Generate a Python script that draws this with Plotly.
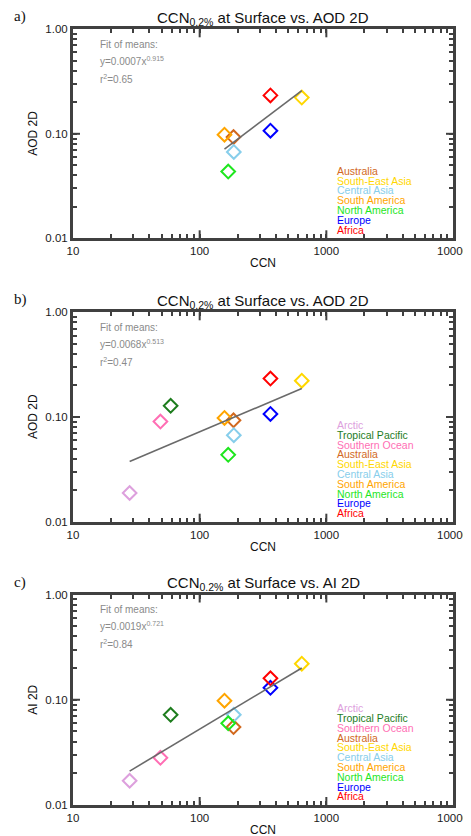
import math
import plotly.graph_objects as go

# ---------------- data ----------------
regions = ["Arctic", "Tropical Pacific", "Southern Ocean", "Australia", "South-East Asia",
           "Central Asia", "South America", "North America", "Europe", "Africa"]
colors = ["#DDA0DD", "#1E7D1E", "#FF6EB4", "#D2691E", "#FFD700",
          "#87CEEB", "#FFA500", "#1EE61E", "#0000FF", "#FF0000"]
ccn = [28, 59, 49, 185, 640, 186, 157, 168, 362, 362]
aod_a = [None, None, None, 0.093, 0.222, 0.067, 0.098, 0.0435, 0.107, 0.233]
aod_b = [0.0188, 0.128, 0.0905, 0.093, 0.222, 0.067, 0.098, 0.0435, 0.107, 0.233]
ai_c = [0.017, 0.072, 0.0281, 0.055, 0.22, 0.072, 0.098, 0.0597, 0.13, 0.16]

fit_a = (0.0007, 0.915, 0.65)
fit_b = (0.0068, 0.513, 0.47)
fit_c = (0.0019, 0.721, 0.84)

panel_labels = ["a)", "b)", "c)"]
titles = ["CCN<sub>0.2%</sub> at Surface vs. AOD 2D",
          "CCN<sub>0.2%</sub> at Surface vs. AOD 2D",
          "CCN<sub>0.2%</sub> at Surface vs. AI 2D"]
ytitles = ["AOD 2D", "AOD 2D", "AI 2D"]
xtitle = "CCN"
xtick_vals = [10, 100, 1000, 10000]
xtick_text = ["10", "100", "1000", "10000"]
ytick_vals = [0.01, 0.1, 1.0]
ytick_text = ["0.01", "0.10", "1.00"]
xminor_vals = [m * 10 ** d for d in range(1, 4) for m in range(2, 10)]
yminor_vals = [m * 10.0 ** d for d in range(-2, 0) for m in range(2, 10)]

# ---------------- layout geometry (page body has an 8px margin) ----------------
OFF = 8
WIN_W, WIN_H = 471, 836
W, H = WIN_W - OFF, WIN_H - OFF
X0, X1 = 73 - OFF, 453 - OFF
panels_px = [(29.3 - OFF, 238.3 - OFF), (312.3 - OFF, 521.7 - OFF), (594.5 - OFF, 805.0 - OFF)]
PW = X1 - X0

FONT = "Liberation Sans, Arial, Helvetica, sans-serif"
INK = "#404040"
fig = go.Figure()
datasets = [aod_a, aod_b, ai_c]
fits = [fit_a, fit_b, fit_c]
annotations = []
shapes = []

# all tick positions (decades labelled, the rest unlabelled short ticks)
x_all = sorted(xtick_vals + xminor_vals)
x_all_text = [xtick_text[xtick_vals.index(v)] if v in xtick_vals else "" for v in x_all]
y_all = sorted(ytick_vals + yminor_vals)
y_all_text = []
for v in y_all:
    m = [t for tv, t in zip(ytick_vals, ytick_text) if abs(tv - v) < 1e-12]
    y_all_text.append(m[0] if m else "")

xlog0, xlog1 = math.log10(xtick_vals[0]), math.log10(xtick_vals[-1])
ylog0, ylog1 = math.log10(ytick_vals[0]), math.log10(ytick_vals[-1])

for p in range(3):
    top, bot = panels_px[p]
    hgt = bot - top
    xa = "x" if p == 0 else f"x{p+1}"
    ya = "y" if p == 0 else f"y{p+1}"
    xname = "xaxis" if p == 0 else f"xaxis{p+1}"
    yname = "yaxis" if p == 0 else f"yaxis{p+1}"
    vals = datasets[p]
    xd = f"{xa} domain"
    yd = f"{ya} domain"

    # markers
    for i, r in enumerate(regions):
        if vals[i] is None:
            continue
        fig.add_trace(go.Scatter(
            x=[ccn[i]], y=[vals[i]], mode="markers", xaxis=xa, yaxis=ya,
            marker=dict(symbol="diamond-open", size=10.5, color=colors[i],
                        line=dict(width=2, color=colors[i])),
            showlegend=False, hoverinfo="skip"))

    # fit line from the printed coefficients over the data's CCN span
    a, b, r2 = fits[p]
    xs = [c for c, v in zip(ccn, vals) if v is not None]
    xmin, xmax = min(xs), max(xs)
    n = 30
    lx = [xmin * (xmax / xmin) ** (k / (n - 1)) for k in range(n)]
    ly = [a * x ** b for x in lx]
    fig.add_trace(go.Scatter(x=lx, y=ly, mode="lines", xaxis=xa, yaxis=ya,
                             line=dict(color="#6a6a6a", width=1.6),
                             showlegend=False, hoverinfo="skip"))

    common = dict(type="log", showgrid=False, zeroline=False,
                  showline=True, linewidth=3, linecolor=INK, mirror="ticks",
                  ticks="inside", ticklen=4, tickwidth=2, tickcolor=INK,
                  automargin=False,
                  tickfont=dict(family=FONT, size=11.5, color="#1a1a1a"))
    fig.layout[xname] = dict(
        common, domain=[X0 / W, X1 / W], range=[xlog0, xlog1], anchor=ya,
        tickmode="array", tickvals=x_all, ticktext=x_all_text)
    fig.layout[yname] = dict(
        common, domain=[1 - bot / H, 1 - top / H], range=[ylog0, ylog1], anchor=xa,
        tickmode="array", tickvals=y_all, ticktext=y_all_text)

    # longer decade ticks (inside, all four sides)
    for v in xtick_vals[1:-1]:
        fx = (math.log10(v) - xlog0) / (xlog1 - xlog0)
        for y0, y1 in [(0, 8 / hgt), (1 - 8 / hgt, 1)]:
            shapes.append(dict(type="line", xref=xd, yref=yd, x0=fx, x1=fx, y0=y0, y1=y1,
                               line=dict(color=INK, width=2), layer="above"))
    for v in ytick_vals[1:-1]:
        fy = (math.log10(v) - ylog0) / (ylog1 - ylog0)
        for x0, x1 in [(0, 7 / PW), (1 - 7 / PW, 1)]:
            shapes.append(dict(type="line", xref=xd, yref=yd, x0=x0, x1=x1, y0=fy, y1=fy,
                               line=dict(color=INK, width=2), layer="above"))

    # title
    annotations.append(dict(text=titles[p], xref=xd, yref=yd, x=0.5,
                            y=1 + 11 / hgt, xanchor="center", yanchor="middle",
                            showarrow=False,
                            font=dict(family=FONT, size=15, color="#111")))
    # panel label
    annotations.append(dict(text=panel_labels[p], xref="paper", yref=yd,
                            x=(12 - OFF) / W, y=1 + 12.5 / hgt, xanchor="left",
                            yanchor="middle", showarrow=False,
                            font=dict(family="Liberation Serif, Times New Roman, serif",
                                      size=15, color="#111")))
    # axis titles
    annotations.append(dict(text=xtitle, xref=xd, yref=yd, x=0.5, y=-25 / hgt,
                            xanchor="center", yanchor="middle", showarrow=False,
                            font=dict(family=FONT, size=12, color="#111")))
    annotations.append(dict(text=ytitles[p], xref="paper", yref=yd, x=(33 - OFF) / W,
                            y=0.5, xanchor="center", yanchor="middle",
                            textangle=-90, showarrow=False,
                            font=dict(family=FONT, size=12, color="#111")))
    # fit text
    fit_lines = ["Fit of means:",
                 f"y={a:.4f}x<sup>{b:.3f}</sup>",
                 f"r<sup>2</sup>={r2:.2f}"]
    fit_px = [15.4, 31.4, 49.7]
    for t, dy in zip(fit_lines, fit_px):
        annotations.append(dict(text=t, xref=xd, yref=yd, x=25 / PW,
                                y=1 - dy / hgt, xanchor="left", yanchor="middle",
                                showarrow=False,
                                font=dict(family=FONT, size=10, color="#8a8a8a")))
    # colored region list (bottom-up: Africa lowest)
    shown = [i for i in range(len(regions)) if vals[i] is not None]
    for k, i in enumerate(reversed(shown)):
        annotations.append(dict(text=regions[i], xref=xd, yref=yd,
                                x=262 / PW,
                                y=(8.6 + 9.8 * k) / hgt, xanchor="left",
                                yanchor="middle", showarrow=False,
                                font=dict(family=FONT, size=10.5, color=colors[i])))

fig.update_layout(width=W, height=H,
                  margin=dict(l=0, r=0, t=0, b=0, pad=0, autoexpand=False),
                  paper_bgcolor="white", plot_bgcolor="white",
                  annotations=annotations, shapes=shapes, showlegend=False)

fig.write_html("out.html")
